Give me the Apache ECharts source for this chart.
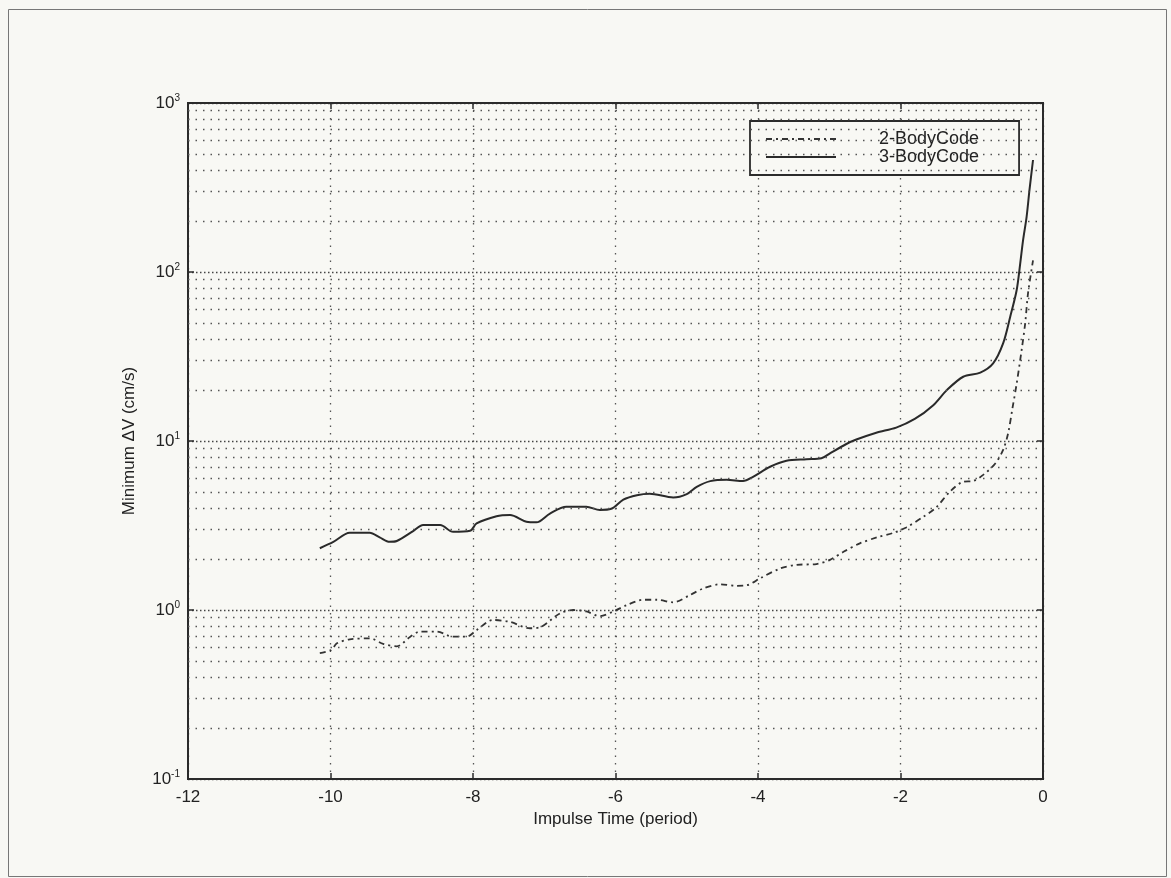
<!DOCTYPE html>
<html>
<head>
<meta charset="utf-8">
<script src="https://cdn.jsdelivr.net/npm/echarts@6/dist/echarts.min.js"></script>
<style>
html,body{margin:0;padding:0;background:#f8f8f4;}
#chart{width:1171px;height:878px;}
</style>
</head>
<body>
<div id="chart"></div>
<script>
// ---- data ----
var xTicks = [-12, -10, -8, -6, -4, -2, 0];
var yDecades = [0.1, 1, 10, 100, 1000];
var minorMult = [2, 3, 4, 5, 6, 7, 8, 9];

var t3 = [-10.15,-9.96,-9.73,-9.45,-9.31,-9.17,-9.07,-8.84,-8.70,-8.46,-8.28,-8.04,-7.95,-7.67,-7.48,-7.25,-7.11,-6.92,-6.69,-6.41,-6.22,-6.06,-5.89,-5.70,-5.52,-5.19,-5.00,-4.86,-4.67,-4.44,-4.21,-4.07,-3.83,-3.60,-3.32,-3.11,-2.99,-2.76,-2.62,-2.34,-2.06,-1.80,-1.54,-1.35,-1.12,-0.88,-0.70,-0.56,-0.46,-0.37,-0.32,-0.28,-0.23,-0.19,-0.14];
var v3 = [2.32,2.53,2.86,2.86,2.69,2.53,2.56,2.93,3.18,3.18,2.90,2.94,3.25,3.59,3.65,3.33,3.30,3.72,4.08,4.08,3.91,3.97,4.5,4.78,4.88,4.63,4.85,5.36,5.79,5.90,5.79,6.14,7.04,7.64,7.8,7.9,8.46,9.6,10.2,11.2,12.0,13.5,16.3,20.0,24.0,25.4,28.8,37.8,54.4,78,112,154,212,305,460];

var t2 = [-10.15,-9.99,-9.91,-9.73,-9.45,-9.26,-9.07,-8.88,-8.74,-8.51,-8.28,-8.09,-7.95,-7.72,-7.48,-7.20,-7.06,-6.78,-6.59,-6.41,-6.22,-6.03,-5.84,-5.61,-5.42,-5.19,-4.95,-4.77,-4.53,-4.30,-4.16,-3.97,-3.69,-3.46,-3.18,-2.99,-2.80,-2.57,-2.33,-2.10,-1.92,-1.68,-1.50,-1.31,-1.12,-0.98,-0.84,-0.67,-0.56,-0.49,-0.43,-0.37,-0.30,-0.25,-0.21,-0.14];
var v2 = [0.555,0.58,0.635,0.67,0.68,0.63,0.61,0.695,0.745,0.745,0.695,0.695,0.76,0.873,0.85,0.78,0.79,0.955,1.0,0.98,0.92,0.98,1.07,1.15,1.15,1.11,1.23,1.34,1.42,1.39,1.40,1.54,1.76,1.85,1.87,1.98,2.21,2.48,2.69,2.86,3.08,3.56,4.04,5.0,5.74,5.8,6.3,7.36,8.85,11.1,15.5,21.8,34.5,49.7,75,117];

var seriesNames = ['2-BodyCode', '3-BodyCode'];
var xName = 'Impulse Time (period)';
var yName = 'Minimum \u0394V (cm/s)';

// ---- build ----
function pairs(t, v){ var o=[]; for(var i=0;i<t.length;i++) o.push([t[i], v[i]]); return o; }
var minorLines = [];
for (var d = 0; d < yDecades.length - 1; d++) {
  for (var m = 0; m < minorMult.length; m++) {
    minorLines.push({ yAxis: +(yDecades[d] * minorMult[m]).toPrecision(3) });
  }
}
var expOf = {};
yDecades.forEach(function(v, i){ expOf[v] = String(i - 1); });

var font = 'Liberation Sans, Arial, sans-serif';
var ink = '#2b2b2b';

var chart = echarts.init(document.getElementById('chart'), null, {renderer: 'canvas'});
chart.setOption({
  backgroundColor: '#f8f8f4',
  animation: false,
  graphic: [{
    type: 'rect', left: 6, top: 7, shape: {width: 1158, height: 867},
    style: {fill: 'none', stroke: '#777', lineWidth: 1}, silent: true
  }],
  grid: {left: 188, top: 103, width: 855, height: 676, show: true, borderColor: ink, borderWidth: 2, backgroundColor: 'transparent'},
  legend: {
    orient: 'vertical', left: 750, top: 121,
    padding: [9, 40, 9, 15], itemGap: 0,
    backgroundColor: '#f8f8f4', borderColor: ink, borderWidth: 1.8,
    itemWidth: 70, itemHeight: 19,
    itemStyle: {opacity: 0},
    textStyle: {fontFamily: font, fontSize: 18, color: '#222', padding: [0, 0, 0, 38]},
    data: seriesNames
  },
  xAxis: [{
    type: 'value', min: -12, max: 0, interval: 2,
    name: xName, nameLocation: 'middle', nameGap: 27,
    nameTextStyle: {fontFamily: font, fontSize: 17, color: '#222'},
    axisLine: {show: true, onZero: false, lineStyle: {color: ink, width: 2}},
    axisTick: {show: true, inside: true, length: 6, lineStyle: {color: ink, width: 1.5}},
    axisLabel: {fontFamily: font, fontSize: 17, color: '#222', margin: 10},
    splitLine: {show: true, lineStyle: {color: '#555', width: 1.3, type: [1.5, 6]}}
  }, {
    type: 'value', min: -12, max: 0, interval: 2, position: 'top',
    axisLine: {show: true, onZero: false, lineStyle: {color: ink, width: 2}},
    axisTick: {show: true, inside: true, length: 6, lineStyle: {color: ink, width: 1.5}},
    axisLabel: {show: false}, splitLine: {show: false}
  }],
  yAxis: [{
    type: 'log', min: 0.1, max: 1000, logBase: 10,
    name: yName, nameLocation: 'middle', nameGap: 50,
    nameTextStyle: {fontFamily: font, fontSize: 17, color: '#222'},
    axisLine: {show: true, onZero: false, lineStyle: {color: ink, width: 2}},
    axisTick: {show: true, inside: true, length: 6, lineStyle: {color: ink, width: 1.5}},
    axisLabel: {
      margin: 8,
      formatter: function(v){ var e = expOf[v]; if (e === undefined) return ''; return '{b|10}{s|' + e + '}'; },
      rich: {
        b: {fontFamily: font, fontSize: 17, color: '#222', lineHeight: 20},
        s: {fontFamily: font, fontSize: 10, color: '#222', lineHeight: 10, verticalAlign: 'top'}
      }
    },
    splitLine: {show: true, lineStyle: {color: '#444', width: 1.3, type: [1.5, 2.5]}}
  }, {
    type: 'log', min: 0.1, max: 1000, logBase: 10, position: 'right',
    axisLine: {show: true, onZero: false, lineStyle: {color: ink, width: 2}},
    axisTick: {show: true, inside: true, length: 6, lineStyle: {color: ink, width: 1.5}},
    axisLabel: {show: false}, splitLine: {show: false}
  }],
  series: [{
    name: seriesNames[0], type: 'line', data: pairs(t2, v2),
    showSymbol: false, symbol: 'none', smooth: 0.3,
    lineStyle: {color: '#333', width: 1.8, type: [6, 4, 2, 4]},
    itemStyle: {color: '#333'},
    markLine: {
      silent: true, symbol: 'none', label: {show: false},
      lineStyle: {color: '#555', width: 1.3, type: [1.5, 6]},
      data: minorLines
    }
  }, {
    name: seriesNames[1], type: 'line', data: pairs(t3, v3),
    showSymbol: false, symbol: 'none', smooth: 0.3,
    lineStyle: {color: '#2a2a2a', width: 2},
    itemStyle: {color: '#2a2a2a'}
  }]
});
</script>
</body>
</html>
